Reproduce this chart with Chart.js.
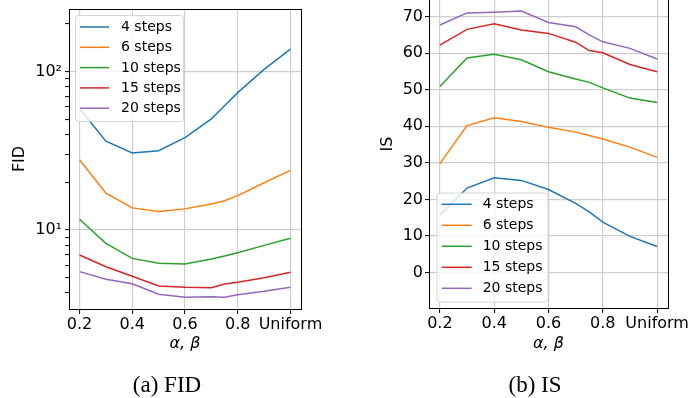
<!DOCTYPE html>
<html>
<head>
<meta charset="utf-8">
<script src="https://cdn.jsdelivr.net/npm/chart.js@4/dist/chart.umd.min.js"></script>
<style>
  html, body { margin: 0; padding: 0; background: #fff; width: 690px; height: 398px; overflow: hidden; }
  #wrapA { position: absolute; left: 0; top: 0; width: 345px; height: 398px; }
  #wrapB { position: absolute; left: 345px; top: -40px; width: 345px; height: 438px; }
  .cap { position: absolute; font-family: "Liberation Serif", "Times New Roman", serif; font-size: 23px; color: #000; line-height: 1; white-space: nowrap; transform: translateX(-50%); }
</style>
</head>
<body>
<div id="wrapA"><canvas id="fid" width="345" height="398"></canvas></div>
<div id="wrapB"><canvas id="is" width="345" height="438"></canvas></div>
<div class="cap" style="left:167px; top:373px;">(a) FID</div>
<div class="cap" style="left:535px; top:373px;">(b) IS</div>
<script>
// ---- data ----
const xValues = [0.2, 0.3, 0.4, 0.5, 0.6, 0.7, 0.75, 0.8, 0.9, 1.0];
const seriesLabels = ['4 steps', '6 steps', '10 steps', '15 steps', '20 steps'];

const fid4  = [58.5, 36.4, 30.7, 31.7, 38.3, 50.4, 61.0, 73.8, 103.5, 139];
const fid6  = [27.8, 17.1, 13.8, 13.1, 13.6, 14.6, 15.3, 16.5, 19.9, 23.8];
const fid10 = [11.7, 8.24, 6.62, 6.16, 6.10, 6.56, 6.85, 7.19, 8.0, 8.87];
const fid15 = [6.95, 5.86, 5.10, 4.43, 4.35, 4.32, 4.56, 4.68, 5.0, 5.41];
const fid20 = [5.46, 4.89, 4.58, 3.93, 3.76, 3.79, 3.76, 3.90, 4.10, 4.35];

const is4  = [15.7, 23.1, 25.9, 25.2, 22.7, 18.9, 16.6, 13.8, 9.9, 7.1];
const is6  = [29.8, 40.2, 42.3, 41.3, 39.7, 38.4, 37.5, 36.5, 34.3, 31.5];
const is10 = [50.9, 58.7, 59.7, 58.2, 54.9, 52.9, 52.0, 50.5, 47.7, 46.5];
const is15 = [62.2, 66.5, 68.0, 66.3, 65.4, 63.0, 60.7, 60.1, 56.9, 54.9];
const is20 = [67.7, 71.0, 71.2, 71.5, 68.4, 67.2, 65.0, 63.1, 61.3, 58.4];

const xTickValues = [0.2, 0.4, 0.6, 0.8, 1.0];
const xTickLabels = ['0.2', '0.4', '0.6', '0.8', 'Uniform'];
const fidTickValues = [4, 5, 6, 7, 8, 9, 10, 20, 30, 40, 50, 60, 70, 80, 90, 100, 200];
const fidMajorValues = [10, 100];
const fidMajorLabels = ['10\u00B9', '10\u00B2'];
const isTickValues = [0, 10, 20, 30, 40, 50, 60, 70];

// ---- styles ----
const colors = ['#1f77b4', '#ff7f0e', '#2ca02c', '#d62728', '#9467bd'];
const FONT = '"DejaVu Sans", sans-serif';

function makeDatasets(seriesList) {
  return seriesList.map((vals, i) => ({
    label: seriesLabels[i],
    data: xValues.map((x, j) => ({ x: x, y: vals[j] })),
    borderColor: colors[i],
    backgroundColor: colors[i],
    borderWidth: 1.5,
    pointRadius: 0,
    tension: 0,
    fill: false
  }));
}

const frameAndLegend = {
  id: 'frameAndLegend',
  afterDraw(chart, args, opts) {
    const ctx = chart.ctx;
    const a = chart.chartArea;
    // legend
    const L = opts;
    ctx.save();
    ctx.beginPath();
    const r = 3;
    const x0 = L.x, y0 = L.y, w = L.w, h = L.h;
    ctx.moveTo(x0 + r, y0);
    ctx.lineTo(x0 + w - r, y0); ctx.quadraticCurveTo(x0 + w, y0, x0 + w, y0 + r);
    ctx.lineTo(x0 + w, y0 + h - r); ctx.quadraticCurveTo(x0 + w, y0 + h, x0 + w - r, y0 + h);
    ctx.lineTo(x0 + r, y0 + h); ctx.quadraticCurveTo(x0, y0 + h, x0, y0 + h - r);
    ctx.lineTo(x0, y0 + r); ctx.quadraticCurveTo(x0, y0, x0 + r, y0);
    ctx.closePath();
    ctx.fillStyle = 'rgba(255,255,255,0.8)';
    ctx.fill();
    ctx.strokeStyle = 'rgba(204,204,204,0.8)';
    ctx.lineWidth = 1;
    ctx.stroke();
    ctx.font = '14px ' + FONT;
    ctx.textBaseline = 'middle';
    ctx.textAlign = 'left';
    chart.data.datasets.forEach((ds, i) => {
      const yy = L.firstY + i * L.rowH;
      ctx.beginPath();
      ctx.strokeStyle = ds.borderColor;
      ctx.lineWidth = 1.5;
      ctx.moveTo(L.hx0, yy);
      ctx.lineTo(L.hx1, yy);
      ctx.stroke();
      ctx.fillStyle = '#000';
      ctx.fillText(ds.label, L.tx, yy + 0.5);
    });
    // frame
    ctx.strokeStyle = '#000';
    ctx.lineWidth = 1;
    ctx.strokeRect(Math.round(a.left) + 0.5, Math.round(a.top) + 0.5, Math.round(a.right - a.left), Math.round(a.bottom - a.top));
    ctx.restore();
  }
};

function xScale(axisHeight) {
  return {
    type: 'linear',
    min: 0.16, max: 1.04,
    afterBuildTicks: (s) => { s.ticks = xTickValues.map(v => ({ value: v })); },
    afterFit: (s) => { s.height = axisHeight; s.paddingLeft = 0; s.paddingRight = 0; },
    ticks: {
      autoSkip: false, maxRotation: 0, padding: 1,
      color: '#000',
      font: { family: FONT, size: 16 },
      callback: (v) => { const k = xTickValues.indexOf(v); return k >= 0 ? xTickLabels[k] : ''; }
    },
    grid: { color: '#cfcfcf', lineWidth: 1.2, tickColor: '#000', tickWidth: 1, tickLength: 5 },
    border: { display: false },
    title: { display: true, text: '\u03B1, \u03B2', color: '#000', font: { family: FONT, size: 16, style: 'italic' }, padding: { top: 0, bottom: 45 } }
  };
}

Chart.defaults.animation = false;
Chart.defaults.responsive = false;

new Chart(document.getElementById('fid'), {
  type: 'line',
  data: { datasets: makeDatasets([fid4, fid6, fid10, fid15, fid20]) },
  options: {
    responsive: false,
    animation: false,
    layout: { padding: { top: 9, left: 0, right: 44, bottom: 0 } },
    plugins: {
      legend: { display: false },
      tooltip: { enabled: false },
      frameAndLegend: { x: 75.5, y: 15.5, w: 108, h: 106, firstY: 27, rowH: 20.3, hx0: 80, hx1: 109, tx: 121 }
    },
    scales: {
      x: xScale(89),
      y: {
        type: 'logarithmic',
        min: 3.17, max: 249,
        bounds: 'data',
        afterBuildTicks: (s) => { s.ticks = fidTickValues.map(v => ({ value: v })); },
        afterFit: (s) => { s.width = 69; s.paddingTop = 0; s.paddingBottom = 0; },
        ticks: {
          autoSkip: false, padding: 3,
          color: '#000',
          font: { family: FONT, size: 16 },
          callback: (v) => { const k = fidMajorValues.indexOf(v); return k >= 0 ? fidMajorLabels[k] : ''; }
        },
        grid: {
          color: (c) => (c.tick && fidMajorValues.includes(c.tick.value)) ? '#cfcfcf' : 'rgba(0,0,0,0)',
          lineWidth: 1.2, tickColor: '#000', tickWidth: 1, tickLength: 4
        },
        border: { display: false },
        title: { display: true, text: 'FID', color: '#000', font: { family: FONT, size: 16 }, padding: { top: 10, bottom: 0 } }
      }
    }
  },
  plugins: [frameAndLegend]
});

new Chart(document.getElementById('is'), {
  type: 'line',
  data: { datasets: makeDatasets([is4, is6, is10, is15, is20]) },
  options: {
    responsive: false,
    animation: false,
    layout: { padding: { top: 20, left: 0, right: 22, bottom: 0 } },
    plugins: {
      legend: { display: false },
      tooltip: { enabled: false },
      frameAndLegend: { x: 92, y: 233, w: 111, h: 109, firstY: 244.3, rowH: 21, hx0: 96.7, hx1: 126.7, tx: 137.7 }
    },
    scales: {
      x: xScale(90),
      y: {
        type: 'linear',
        min: -9.7, max: 80,
        afterBuildTicks: (s) => { s.ticks = isTickValues.map(v => ({ value: v })); },
        afterFit: (s) => { s.width = 84; s.paddingTop = 0; s.paddingBottom = 0; },
        ticks: {
          autoSkip: false, padding: 2,
          color: '#000',
          font: { family: FONT, size: 16 },
          callback: (v) => String(v)
        },
        grid: { color: '#cfcfcf', lineWidth: 1.2, tickColor: '#000', tickWidth: 1, tickLength: 4 },
        border: { display: false },
        title: { display: true, text: 'IS', color: '#000', font: { family: FONT, size: 16 }, padding: { top: 33, bottom: 0 } }
      }
    }
  },
  plugins: [frameAndLegend]
});
</script>
</body>
</html>
